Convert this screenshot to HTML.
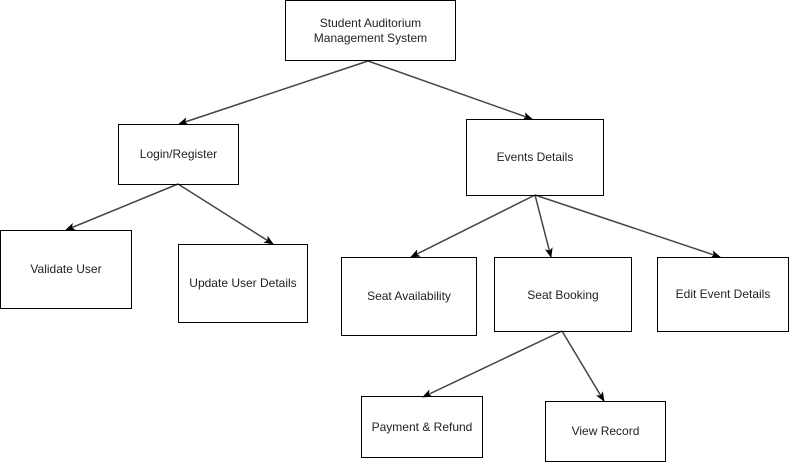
<!DOCTYPE html>
<html><head><style>
body{margin:0;background:#fff;}
.b{position:absolute;border:1.3px solid #000;box-sizing:border-box;display:flex;align-items:center;justify-content:center;text-align:center;font:12px "Liberation Sans",sans-serif;color:#222;line-height:15px;}
</style></head><body>
<div style="position:relative;width:789px;height:462px;overflow:hidden">
<svg width="789" height="462" style="position:absolute;left:0;top:0">
<defs><marker id="a" markerWidth="10" markerHeight="10" refX="9" refY="5" orient="auto" markerUnits="userSpaceOnUse"><path d="M0,1 L10,5 L0,9 L2.5,5z" fill="#000"/></marker></defs>
<g stroke="#444" stroke-width="1.5" fill="none" marker-end="url(#a)">
<line x1="368" y1="61" x2="179" y2="124"/>
<line x1="368" y1="61" x2="532" y2="119"/>
<line x1="178" y1="184" x2="66" y2="230"/>
<line x1="178" y1="184" x2="273" y2="244"/>
<line x1="535" y1="195" x2="411" y2="257"/>
<line x1="535" y1="195" x2="551" y2="257"/>
<line x1="535" y1="195" x2="720" y2="257"/>
<line x1="562" y1="331" x2="423" y2="397"/>
<line x1="562" y1="331" x2="604" y2="401"/>
</g></svg>
<div class="b" style="left:285px;top:0;width:171px;height:61px">Student Auditorium<br>Management System</div>
<div class="b" style="left:118px;top:124px;width:121px;height:61px">Login/Register</div>
<div class="b" style="left:466px;top:119px;width:138px;height:77px">Events Details</div>
<div class="b" style="left:0;top:230px;width:132px;height:79px">Validate User</div>
<div class="b" style="left:178px;top:244px;width:130px;height:79px">Update User Details</div>
<div class="b" style="left:341px;top:257px;width:136px;height:79px">Seat Availability</div>
<div class="b" style="left:494px;top:257px;width:138px;height:75px;align-items:flex-start;padding-top:30px">Seat Booking</div>
<div class="b" style="left:657px;top:257px;width:132px;height:75px">Edit Event Details</div>
<div class="b" style="left:361px;top:396px;width:122px;height:62px">Payment &amp; Refund</div>
<div class="b" style="left:545px;top:401px;width:121px;height:61px">View Record</div>
</div>
</body></html>
